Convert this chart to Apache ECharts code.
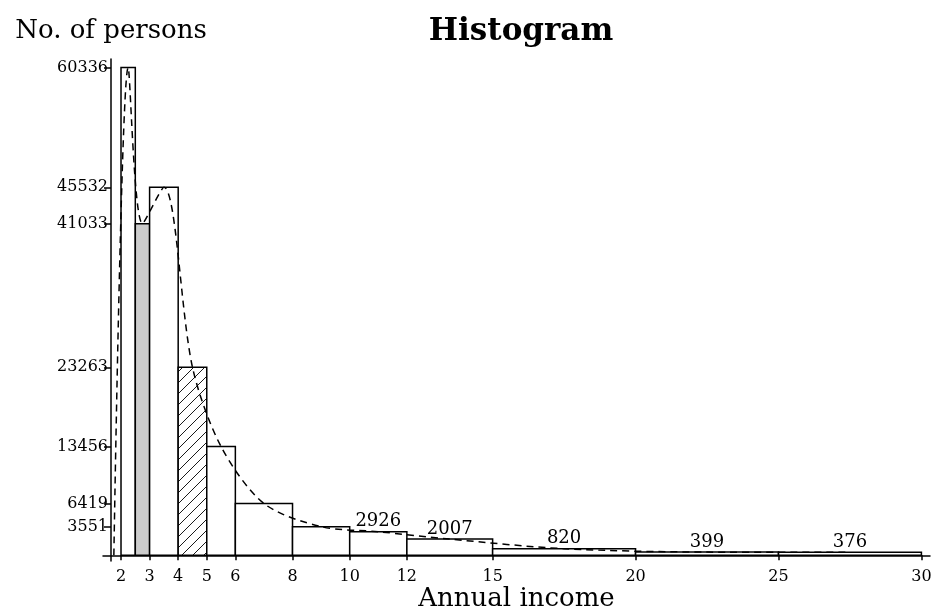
<!DOCTYPE html>
<html><head><meta charset="utf-8">
<script src="https://cdn.jsdelivr.net/npm/echarts@6/dist/echarts.min.js"></script>
<style>html,body{margin:0;padding:0;background:#fff}#c{width:936px;height:612px}</style>
</head><body><div id="c"></div>
<script>
// ---- data ----
const binStarts = [2, 2.5, 3, 4, 5, 6, 8, 10, 12, 15, 20, 25];
const binEnds   = [2.5, 3, 4, 5, 6, 8, 10, 12, 15, 20, 25, 30];
const counts    = [60336, 41033, 45532, 23263, 13456, 6419, 3551, 2926, 2007, 820, 399, 376];
const fillKind  = ['plain','gray','plain','hatch','plain','plain','plain','plain','plain','plain','plain','plain'];
const showLabel = [false,false,false,false,false,false,false,true,true,true,true,true];
const yTicks = [3551, 6419, 13456, 23263, 41033, 45532, 60336];
const xTicks = [2, 3, 4, 5, 6, 8, 10, 12, 15, 20, 25, 30];
const curveX = [1.75, 2.25, 2.75, 3.5, 4.5, 5.5, 7, 9, 11, 13.5, 17.5, 22.5, 27.5];
const curveY = [0, 60336, 41033, 45532, 23263, 13456, 6419, 3551, 2926, 2007, 820, 399, 376];

const FONT = 'DejaVu Serif';

// hatch pattern
const pc = document.createElement('canvas');
pc.width = 11; pc.height = 11;
const g = pc.getContext('2d');
g.fillStyle = '#fff'; g.fillRect(0,0,11,11);
g.strokeStyle = '#000'; g.lineWidth = 0.9;
g.beginPath();
g.moveTo(0,11); g.lineTo(11,0);
g.moveTo(-1,1); g.lineTo(1,-1);
g.moveTo(10,12); g.lineTo(12,10);
g.stroke();

const fills = {plain: '#ffffff', gray: '#cccccc', hatch: {image: pc, repeat: 'repeat'}};

const barData = binStarts.map((s, i) => [s, binEnds[i], counts[i], i]);
const curveData = curveX.map((x, i) => [x, curveY[i]]);

const chart = echarts.init(document.getElementById('c'), null, {renderer: 'canvas'});
chart.setOption({
  animation: false,
  backgroundColor: '#fff',
  title: {
    text: 'Histogram', left: 516, top: 11, textAlign: 'center',
    textStyle: {fontFamily: FONT, fontWeight: 'bold', fontSize: 31, color: '#000'}
  },
  grid: {left: 103, right: 6, top: 59, bottom: 51, containLabel: false, outerBoundsMode: 'none'},
  xAxis: {
    type: 'value', min: 1.37, max: 30.3,
    name: 'Annual income', nameLocation: 'middle', nameGap: 25, nameMoveOverlap: false,
    nameTextStyle: {fontFamily: FONT, fontSize: 26, color: '#000'},
    axisLine: {onZero: true, lineStyle: {color: '#000', width: 1.5}},
    axisTick: {customValues: xTicks, length: 5, lineStyle: {color: '#000', width: 1.5}},
    axisLabel: {customValues: xTicks, fontFamily: FONT, fontSize: 16, color: '#000', margin: 8,
      formatter: v => String(v)},
    splitLine: {show: false}
  },
  yAxis: {
    type: 'value', min: -700, max: 61400, offset: -8,
    name: 'No. of persons', nameLocation: 'end', nameGap: 15,
    nameTextStyle: {fontFamily: FONT, fontSize: 26, color: '#000', align: 'center'},
    axisLine: {show: true, lineStyle: {color: '#000', width: 1.5}},
    axisTick: {show: true, customValues: yTicks, length: 7, lineStyle: {color: '#000', width: 1.5}},
    axisLabel: {customValues: yTicks, fontFamily: FONT, fontSize: 16, color: '#000', margin: 3,
      formatter: v => String(v)},
    splitLine: {show: false}
  },
  series: [
    {
      type: 'custom',
      data: barData,
      encode: {x: [0, 1], y: 2},
      renderItem: function (params, api) {
        const i = api.value(3);
        const p0 = api.coord([api.value(0), 0]);
        const p1 = api.coord([api.value(1), api.value(2)]);
        const children = [{
          type: 'rect',
          shape: {x: p0[0], y: p1[1], width: p1[0] - p0[0], height: p0[1] - p1[1]},
          style: {fill: fills[fillKind[i]], stroke: '#000', lineWidth: 1.5}
        }];
        if (showLabel[i]) {
          children.push({
            type: 'text',
            style: {
              text: String(counts[i]), x: (p0[0] + p1[0]) / 2, y: p1[1] - 1,
              textAlign: 'center', textVerticalAlign: 'bottom',
              font: '18px "' + FONT + '"', fill: '#000'
            }
          });
        }
        return {type: 'group', children: children};
      },
      z: 2
    },
    {
      type: 'line',
      data: curveData,
      smooth: 0.3,
      showSymbol: false,
      lineStyle: {color: '#000', width: 1.5, type: [7, 5]},
      z: 3
    }
  ]
});
</script></body></html>
